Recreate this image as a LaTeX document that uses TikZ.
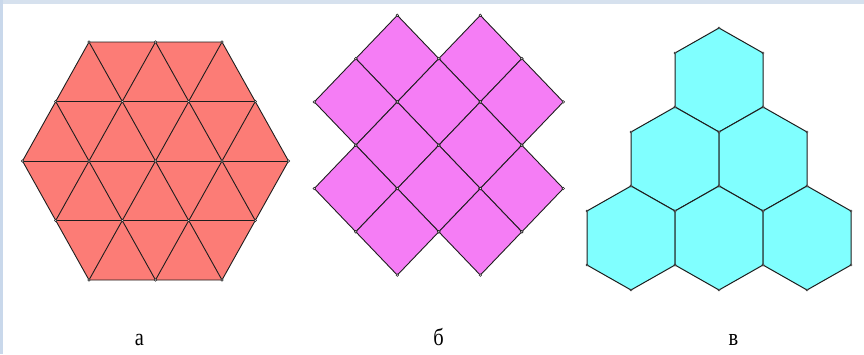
\documentclass[tikz,border=0pt]{standalone}
\usepackage{fontspec}
\setmainfont{Liberation Serif}
\definecolor{salmon}{RGB}{252,124,118}
\definecolor{violetfill}{RGB}{245,125,245}
\definecolor{cyanfill}{RGB}{128,255,255}
\definecolor{edge}{RGB}{30,30,30}
\definecolor{bandtop}{RGB}{214,225,238}
\definecolor{bandleft}{RGB}{201,216,235}
\tikzset{
  tri/.style={fill=salmon, draw=edge, line width=0.9pt, line join=round},
  triline/.style={draw=edge, line width=0.9pt},
  sq/.style={fill=violetfill, draw=edge, line width=0.9pt, line join=round},
  hexa/.style={fill=cyanfill, draw=edge, line width=1pt, line join=round},
  vdot/.style={fill=white, draw=edge, line width=0.5pt},
  lbl/.style={font=\fontsize{24}{28}\selectfont, anchor=base, inner sep=0pt, xscale=0.85}
}
\begin{document}
\begin{tikzpicture}[x=1pt,y=-1pt]
\useasboundingbox (0,0) rectangle (864,354);
\fill[white] (0,0) rectangle (864,354);
\fill[bandtop] (0,0) rectangle (864,4);
\fill[bandleft] (0,0) rectangle (3,354);

% ---------- a: hexagon of triangles ----------
\draw[tri] (89,42) -- (222,42) -- (288.5,161) -- (222,280) -- (89,280) -- (22.5,161) -- cycle;
% horizontals
\draw[triline] (55.75,101.5) -- (255.25,101.5);
\draw[triline] (22.5,161) -- (288.5,161);
\draw[triline] (55.75,220.5) -- (255.25,220.5);
% down-right diagonals
\draw[triline] (89,42) -- (222,280);
\draw[triline] (155.5,42) -- (255.25,220.5);
\draw[triline] (55.75,101.5) -- (155.5,280);
% down-left diagonals
\draw[triline] (222,42) -- (89,280);
\draw[triline] (155.5,42) -- (55.75,220.5);
\draw[triline] (255.25,101.5) -- (155.5,280);
% vertex dots
\foreach \x in {89,155.5,222} {
  \draw[vdot] (\x,42) circle (1.3);
  \draw[vdot] (\x,280) circle (1.3);
}
\foreach \x in {55.75,122.25,188.75,255.25} {
  \draw[vdot] (\x,101.5) circle (1.3);
  \draw[vdot] (\x,220.5) circle (1.3);
}
\foreach \x in {22.5,89,155.5,222,288.5} {
  \draw[vdot] (\x,161) circle (1.3);
}

% ---------- b: squares ----------
\foreach \i/\j in {-1/-2,1/-2,-2/-1,0/-1,2/-1,-1/0,1/0,-2/1,0/1,2/1,-1/2,1/2} {
  \pgfmathsetmacro\cx{438.8+41.5*\i}
  \pgfmathsetmacro\cy{145.2+43.3*\j}
  \draw[sq] (\cx-41.5,\cy) -- (\cx,\cy-43.3) -- (\cx+41.5,\cy) -- (\cx,\cy+43.3) -- cycle;
}
\foreach \i/\j in {-1/-2,1/-2,-2/-1,0/-1,2/-1,-1/0,1/0,-2/1,0/1,2/1,-1/2,1/2} {
  \pgfmathsetmacro\cx{438.8+41.5*\i}
  \pgfmathsetmacro\cy{145.2+43.3*\j}
  \draw[vdot] (\cx-41.5,\cy) circle (1.3);
  \draw[vdot] (\cx+41.5,\cy) circle (1.3);
  \draw[vdot] (\cx,\cy-43.3) circle (1.3);
  \draw[vdot] (\cx,\cy+43.3) circle (1.3);
}

% ---------- c: hexagons ----------
\foreach \cx/\cy in {719/80,675/159,763/159,631/238,719/238,807/238} {
  \draw[hexa] (\cx,\cy-52) -- (\cx+44,\cy-27) -- (\cx+44,\cy+27) -- (\cx,\cy+52) -- (\cx-44,\cy+27) -- (\cx-44,\cy-27) -- cycle;
}
\foreach \cx/\cy in {719/80,675/159,763/159,631/238,719/238,807/238} {
  \foreach \dx/\dy in {0/-52,44/-27,44/27,0/52,-44/27,-44/-27} {
    \draw[vdot] (\cx+\dx,\cy+\dy) circle (1.1);
  }
}

% ---------- labels ----------
\node[lbl] (la) at (139.5,345) {а};
\node[lbl] (lb) at (438.5,345) {б};
\node[lbl] (lc) at (733.5,345) {в};
\end{tikzpicture}
\end{document}
